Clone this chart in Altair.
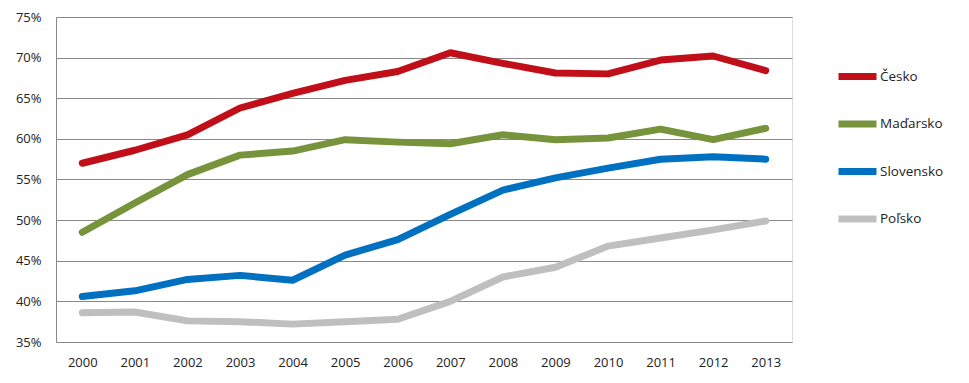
import altair as alt
import pandas as pd

years = [str(y) for y in range(2000, 2014)]
cesko = [57.0, 58.6, 60.5, 63.8, 65.6, 67.2, 68.3, 70.6, 69.3, 68.1, 68.0, 69.7, 70.2, 68.4]
madarsko = [48.5, 52.1, 55.6, 58.0, 58.5, 59.9, 59.6, 59.4, 60.5, 59.9, 60.1, 61.2, 59.9, 61.3]
slovensko = [40.6, 41.3, 42.7, 43.2, 42.6, 45.7, 47.6, 50.7, 53.7, 55.2, 56.4, 57.5, 57.8, 57.5]
polsko = [38.6, 38.7, 37.6, 37.5, 37.2, 37.5, 37.8, 40.0, 43.0, 44.2, 46.8, 47.8, 48.8, 49.9]

series = ["Česko", "Maďarsko", "Slovensko", "Poľsko"]
colors = ["#C00F18", "#77933C", "#0070C0", "#BFBFBF"]

rows = []
for name, vals in zip(series, [cesko, madarsko, slovensko, polsko]):
    for y, v in zip(years, vals):
        rows.append({"Rok": y, "Krajina": name, "Hodnota": v / 100})
df = pd.DataFrame(rows)

chart = alt.Chart(df).mark_line(strokeWidth=7, strokeCap="round", strokeJoin="round").encode(
    x=alt.X("Rok:N", sort=years, title=None,
            scale=alt.Scale(paddingOuter=0.5),
            axis=alt.Axis(labelAngle=0, ticks=False, domain=False, grid=False,
                          labelPadding=14, labelFontSize=13, labelColor="#222",
                          labelFont="Open Sans")),
    y=alt.Y("Hodnota:Q", title=None,
            scale=alt.Scale(domain=[0.35, 0.75], nice=False, zero=False),
            axis=alt.Axis(format=".0%", values=[0.35, 0.40, 0.45, 0.50, 0.55, 0.60, 0.65, 0.70, 0.75],
                          ticks=False, domain=True, domainColor="#888", gridColor="#888",
                          gridWidth=1, labelPadding=15, labelFontSize=13, labelColor="#222",
                          labelFont="Open Sans")),
    color=alt.Color("Krajina:N", sort=series,
                    scale=alt.Scale(domain=series, range=colors),
                    legend=alt.Legend(title=None, orient="none", legendX=779, legendY=37,
                                      symbolType="stroke", symbolSize=1444, symbolStrokeWidth=7,
                                      labelFontSize=13.5, labelFont="Open Sans", labelColor="#222",
                                      labelOffset=0, rowPadding=10.5)),
    order=alt.Order("Rok:N"),
).properties(
    width=736, height=325,
    autosize=alt.AutoSizeParams(type="none"),
    padding={"left": 48, "top": 9, "right": 160, "bottom": 30},
).configure_view(stroke=None).configure(background="white")

chart.save("out.html", embed_options={"renderer": "svg", "actions": False})
